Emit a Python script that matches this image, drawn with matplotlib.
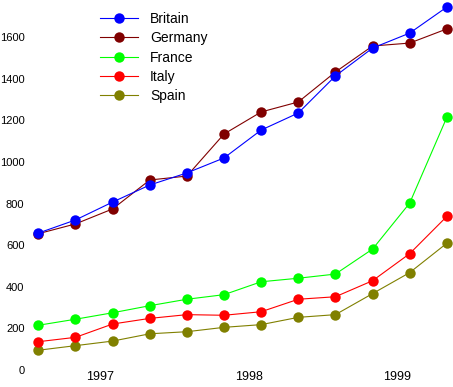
import matplotlib
matplotlib.use('Agg')
import matplotlib.pyplot as plt

# quarterly readings, Aug 1996 .. May 1999
dates = ['1996-08', '1996-11', '1997-02', '1997-05', '1997-08', '1997-11',
         '1998-02', '1998-05', '1998-08', '1998-11', '1999-02', '1999-05']

britain = [658, 721, 807, 889, 947, 1019, 1153, 1235, 1413, 1547, 1619, 1744]
germany = [655, 702, 774, 913, 932, 1134, 1240, 1288, 1432, 1557, 1571, 1639]
france = [215, 244, 275, 309, 340, 362, 424, 441, 461, 581, 802, 1214]
italy = [136, 157, 221, 248, 266, 263, 280, 340, 352, 429, 559, 738]
spain = [95, 117, 139, 174, 184, 205, 218, 253, 266, 367, 468, 609]

names = ['Britain', 'Germany', 'France', 'Italy', 'Spain']
series = [britain, germany, france, italy, spain]
colors = ['#0000ff', '#800000', '#00ff00', '#ff0000', '#808000']

year_ticks = [1997, 1998, 1999]
y_ticks = [0, 200, 400, 600, 800, 1000, 1200, 1400, 1600]

# decimal years
x = [int(d[:4]) + (int(d[5:]) - 1) / 12 for d in dates]

plt.rcParams['font.family'] = ['Liberation Sans', 'DejaVu Sans']

fig = plt.figure(figsize=(4.53, 3.87), dpi=100)
ax = fig.add_axes([30 / 453, 17 / 387, 423 / 453, 370 / 387])

handles = {}
# draw in reverse so Britain sits on top
for name, vals, c in reversed(list(zip(names, series, colors))):
    h, = ax.plot(x, vals, color=c, lw=0.8, marker='o', markersize=7.5,
                 markeredgewidth=0)
    handles[name] = h

ax.set_xlim(1996.527, 1999.375)
ax.set_ylim(0, 1778)
ax.set_xticks(year_ticks)
ax.set_xticklabels([str(t) for t in year_ticks])
ax.set_yticks(y_ticks)
ax.set_yticklabels([str(t) for t in y_ticks])
ax.tick_params(axis='x', length=0, pad=1, labelsize=9)
ax.tick_params(axis='y', length=0, pad=4, labelsize=8)
for s in ax.spines.values():
    s.set_visible(False)

ax.legend([handles[n] for n in names], names, frameon=False,
          loc='upper left', bbox_to_anchor=(100 / 453, 1 - 12 / 387),
          bbox_transform=fig.transFigure, borderpad=0, borderaxespad=0,
          handlelength=2.75, handletextpad=0.85, labelspacing=0.38,
          fontsize=10)

fig.savefig('out.png', dpi=100)
